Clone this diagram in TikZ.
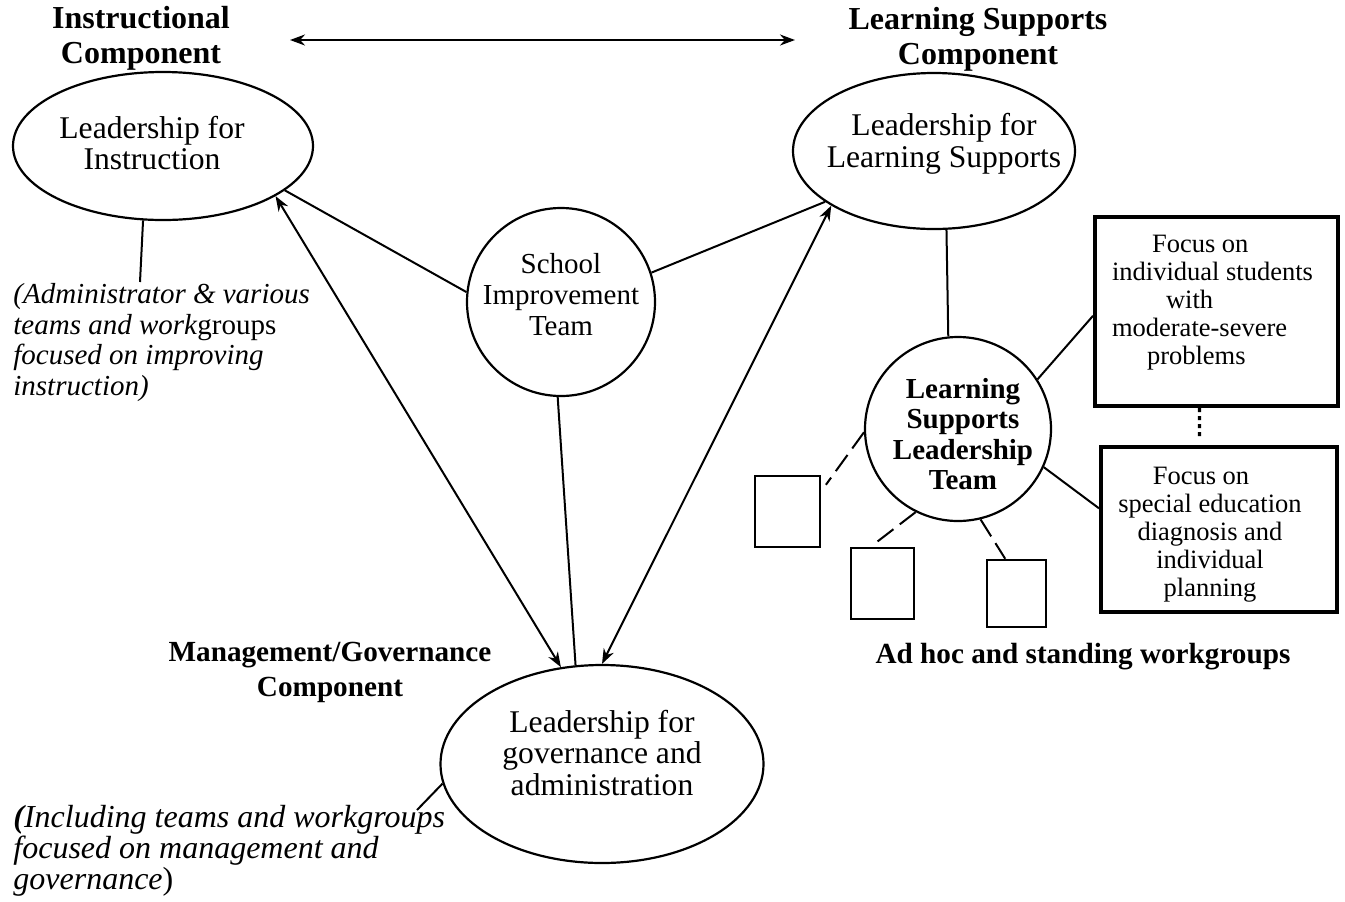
\documentclass[tikz,border=0pt]{standalone}
\usepackage{fontspec}
\setmainfont{Liberation Serif}
\usepackage{tikz}
\usetikzlibrary{shapes.geometric}
\usetikzlibrary{arrows.meta}
\tikzset{
    lead_node/.style={ellipse, draw=black, line width=1.1pt, inner sep=0pt},
    lead_text/.style={align=center, inner sep=0pt, font=\fontsize{15.8}{15.8}\selectfont},
    team_text/.style={align=center, inner sep=0pt, font=\fontsize{14.5}{15.5}\selectfont},
    head_text/.style={align=center, inner sep=0pt, font=\bfseries\fontsize{16}{17.5}\selectfont},
    sub_head/.style={align=center, inner sep=0pt, font=\bfseries\fontsize{14.6}{17.5}\selectfont},
    note_text/.style={align=left, anchor=west, inner sep=0pt, font=\itshape\fontsize{14.5}{15.2}\selectfont},
    focus_box/.style={rectangle, draw=black, line width=2pt, inner sep=0pt},
    focus_text/.style={inner sep=0pt, font=\fontsize{13.25}{14}\selectfont},
    work_box/.style={rectangle, draw=black, line width=1.2pt, inner sep=0pt},
    link_line/.style={draw=black, line width=1pt},
    link_arrow/.style={link_line, {Stealth[length=7.5pt, width=5.5pt]}-{Stealth[length=7.5pt, width=5.5pt]}},
    work_link/.style={link_line, dash pattern=on 10pt off 4pt},
    box_link/.style={draw=black, line width=1.6pt, dash pattern=on 2pt off 2pt}
}

\begin{document}
\begin{tikzpicture}[x=0.5pt, y=-0.5pt]
    \useasboundingbox (0,0) rectangle (1345,901);
    % component headings
    \node[head_text](hd_instr) at (141,38) {Instructional\\Component};
    \node[head_text](hd_ls) at (978,39) {Learning Supports\\Component};
    \node[sub_head](hd_gov) at (330,672) {Management/Governance\\Component};
    \node[sub_head](hd_work) at (1083,657) {Ad hoc and standing workgroups};
    \coordinate (hd_left) at (290,40);
    \coordinate (hd_right) at (795,40);
    \draw[link_arrow] (hd_left) -- (hd_right);

    % leadership nodes
    \node[lead_node, minimum width=150pt, minimum height=74pt,
        label={[lead_text, name=instr_txt, xshift=-5.5pt, yshift=1.5pt]center:Leadership for\\Instruction}](instr) at (163,146) {};
    \node[lead_node, minimum width=141pt, minimum height=78pt,
        label={[lead_text, name=lsup_txt, xshift=5pt, yshift=3.75pt]center:Leadership for\\Learning Supports}](lsup) at (934,151) {};
    \node[lead_node, minimum width=161.5pt, minimum height=99pt,
        label={[lead_text, name=gov_txt, yshift=5.5pt]center:Leadership for\\governance and\\administration}](gov) at (602,764) {};
    \node[lead_node, minimum width=94pt, minimum height=94pt,
        label={[team_text, name=sit_txt, yshift=3.5pt]center:School\\Improvement\\Team}](sit) at (561,302) {};
    \node[lead_node, minimum width=93pt, minimum height=92pt,
        label={[team_text, font=\bfseries\fontsize{14.5}{15.3}\selectfont, name=lslt_txt, xshift=2.5pt, yshift=-2.5pt]center:Learning\\Supports\\Leadership\\Team}](lslt) at (958,429) {};

    % notes
    \node[note_text](instr_note) at (13,342.5) {(Administrator \& various\\teams and work\textup{groups}\\focused on improving\\instruction)};
    \node[note_text, font=\itshape\fontsize{16}{15.5}\selectfont](gov_note) at (13,851) {\textbf{(}Including teams and workgroups\\focused on management and\\governance\textup{)}};
    \coordinate (instr_note_pt) at (140,282);
    \coordinate (gov_note_pt) at (417,810);

    % focus boxes
    \node[focus_box, minimum width=121.5pt, minimum height=94.5pt,
        label={[focus_text, align=left, name=box1_txt, xshift=-2pt, yshift=4.5pt]center:\rule{20pt}{0pt}Focus on\\individual students\\\rule{27pt}{0pt}with\\moderate-severe\\\rule{17.5pt}{0pt}problems}](box1) at (1216.5,311.5) {};
    \node[focus_box, minimum width=118pt, minimum height=82.5pt,
        label={[focus_text, align=center, name=box2_txt, xshift=-4.5pt, yshift=-2.75pt]center:Focus on\rule{9pt}{0pt}\\special education\\diagnosis and\\individual\\planning}](box2) at (1219,529.5) {};

    % workgroups
    \node[work_box, minimum width=32.5pt, minimum height=35.5pt](sq1) at (787.5,511.5) {};
    \node[work_box, minimum width=31.5pt, minimum height=35.5pt](sq2) at (882.5,583.5) {};
    \node[work_box, minimum width=29.5pt, minimum height=33.5pt](sq3) at (1016.5,593.5) {};

    % connectors
    \draw[link_line] (sit.174.5) -- (instr.-20.7);
    \draw[link_line] (sit.18.3) -- (lsup.205.7);
    \draw[link_line] (sit.-92) -- (gov.105.4);
    \draw[link_arrow] (instr.-24.1) -- (gov.113.5);
    \draw[link_arrow] (lsup.208.4) -- (gov.90);
    \draw[link_line] (instr.-105) -- (instr_note_pt);
    \draw[link_line] (gov.-173.4) -- (gov_note_pt);
    \draw[link_line] (lsup.-81) -- (lslt.96);
    \draw[link_line] (lslt.32.5) -- (box1.182.8);
    \draw[link_line] (lslt.-24.3) -- (box2.170.8);
    \draw[box_link, shorten >=3pt] (box1.-100.5) -- (box2.103.6);
    \draw[work_link, shorten >=4pt] (lslt.182.5) -- (sq1.31);
    \draw[work_link, shorten >=1.5pt] (lslt.-117) -- (sq2.108);
    \draw[work_link] (lslt.-76) -- (sq3.108.4);
\end{tikzpicture}
\end{document}
